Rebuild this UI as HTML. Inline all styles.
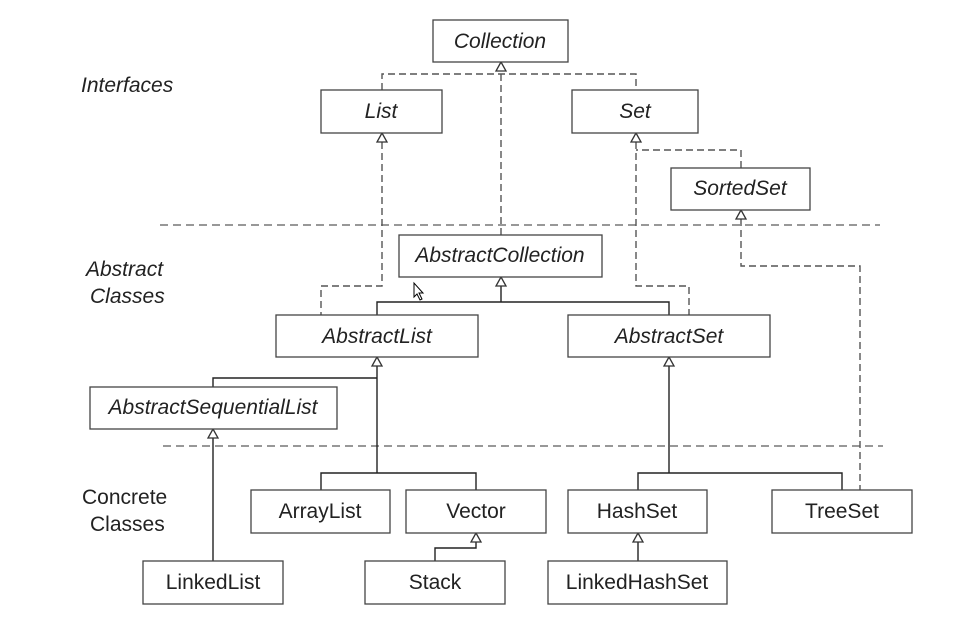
<!DOCTYPE html>
<html><head><style>body{margin:0;background:#fff}svg{display:block}</style></head><body>
<svg width="980" height="632" xmlns="http://www.w3.org/2000/svg" font-family="Liberation Sans, Arial, sans-serif" font-size="21" fill="#222">
<g stroke="#777" stroke-width="1.6" stroke-dasharray="8,5" fill="none">
<line x1="160" y1="225" x2="880" y2="225"/>
<line x1="163" y1="446" x2="883" y2="446"/>
</g>
<g stroke="#555" stroke-width="1.4" stroke-dasharray="7,4" fill="none">
<path d="M501 235 V71"/>
<path d="M382 90 V74 H636 V90"/>
<path d="M382 142 V286 H321 V315"/>
<path d="M636 142 V286 H689 V315"/>
<path d="M741 168 V150 H636"/>
<path d="M741 219 V266 H860 V490"/>
</g>
<g stroke="#222" stroke-width="1.4" fill="none">
<path d="M501 286 V302"/>
<path d="M377 315 V302 H669 V315"/>
<path d="M377 366 V473"/>
<path d="M213 387 V378 H377"/>
<path d="M321 490 V473 H476 V490"/>
<path d="M213 438 V561"/>
<path d="M476 542 V548 H435 V561"/>
<path d="M669 366 V473"/>
<path d="M638 490 V473 H842 V490"/>
<path d="M638 542 V561"/>
</g>
<g stroke="#333" stroke-width="1.3" fill="#fff">
<path d="M501 62 l-5 9 h10z"/>
<path d="M382 133 l-5 9 h10z"/>
<path d="M636 133 l-5 9 h10z"/>
<path d="M741 210 l-5 9 h10z"/>
<path d="M501 277 l-5 9 h10z"/>
<path d="M377 357 l-5 9 h10z"/>
<path d="M669 357 l-5 9 h10z"/>
<path d="M213 429 l-5 9 h10z"/>
<path d="M476 533 l-5 9 h10z"/>
<path d="M638 533 l-5 9 h10z"/>
</g>
<g stroke="#444" stroke-width="1.3" fill="#fff">
<rect x="433" y="20" width="135" height="42"/>
<rect x="321" y="90" width="121" height="43"/>
<rect x="572" y="90" width="126" height="43"/>
<rect x="671" y="168" width="139" height="42"/>
<rect x="399" y="235" width="203" height="42"/>
<rect x="276" y="315" width="202" height="42"/>
<rect x="568" y="315" width="202" height="42"/>
<rect x="90" y="387" width="247" height="42"/>
<rect x="251" y="490" width="139" height="43"/>
<rect x="406" y="490" width="140" height="43"/>
<rect x="568" y="490" width="139" height="43"/>
<rect x="772" y="490" width="140" height="43"/>
<rect x="143" y="561" width="140" height="43"/>
<rect x="365" y="561" width="140" height="43"/>
<rect x="548" y="561" width="179" height="43"/>
</g>
<g text-anchor="middle" font-style="italic">
<text x="500" y="48">Collection</text>
<text x="381" y="118">List</text>
<text x="635" y="118">Set</text>
<text x="740" y="195">SortedSet</text>
<text x="500" y="262">AbstractCollection</text>
<text x="377" y="343">AbstractList</text>
<text x="669" y="343">AbstractSet</text>
<text x="213" y="414">AbstractSequentialList</text>
</g>
<g text-anchor="middle">
<text x="320" y="518">ArrayList</text>
<text x="476" y="518">Vector</text>
<text x="637" y="518">HashSet</text>
<text x="842" y="518">TreeSet</text>
<text x="213" y="589">LinkedList</text>
<text x="435" y="589">Stack</text>
<text x="637" y="589">LinkedHashSet</text>
</g>
<g font-style="italic">
<text x="81" y="92">Interfaces</text>
<text x="86" y="276">Abstract</text>
<text x="90" y="303">Classes</text>
</g>
<text x="82" y="504">Concrete</text>
<text x="90" y="531">Classes</text>
<path d="M414 283 v14 l3 -3 l3 6 l2 -1 l-3 -6 h4z" fill="#fff" stroke="#000" stroke-width="1"/>
</svg>
</body></html>
